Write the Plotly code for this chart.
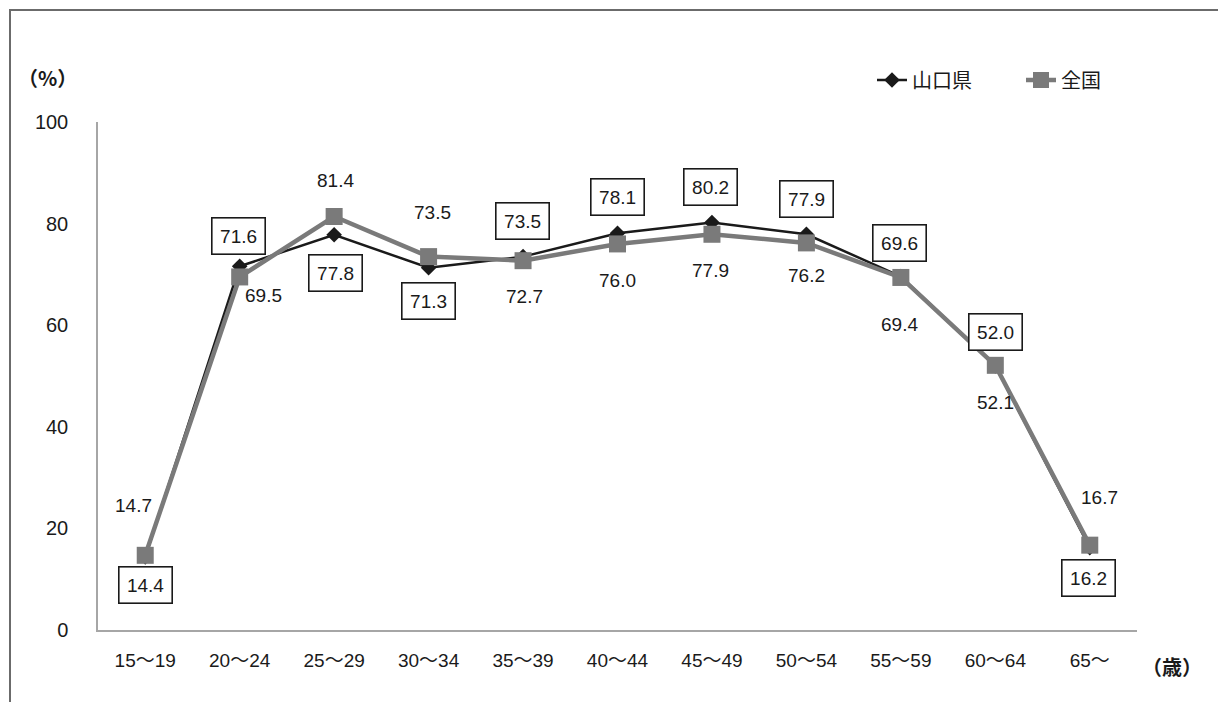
import plotly.graph_objects as go

categories = ["15～19", "20～24", "25～29", "30～34", "35～39", "40～44",
              "45～49", "50～54", "55～59", "60～64", "65～"]
yamaguchi = [14.4, 71.6, 77.8, 71.3, 73.5, 78.1, 80.2, 77.9, 69.6, 52.0, 16.2]
national = [14.7, 69.5, 81.4, 73.5, 72.7, 76.0, 77.9, 76.2, 69.4, 52.1, 16.7]

# label offsets (pixels) for data labels
y_shift_yama = [-28, 30, -38, -33, 36, 36, 36, 35, 33, 34, -30]
x_shift_yama = [0, -1, 1, 0, -1, 0, -1, 0, -1, 0, -1]
y_shift_nat = [50, -19, 36, 44, -36, -37, -36, -33, -47, -37, 48]
x_shift_nat = [-12, 24, 1, 4, 1, 0, -1, 0, -1, 0, 10]

FONT = "Liberation Sans, Arial, Noto Sans CJK JP"
CJK = "Noto Sans CJK JP"

# page offset: browser body margin
OFF = 8
W, H = 1226 - 2 * OFF, 710 - 2 * OFF
L, T = 98 - OFF, 122 - OFF
pw, ph = 1039, 508
R = W - L - pw
B = H - T - ph


def px_to_paper(px, py):
    return (px - OFF - L) / pw, (H - B - (py - OFF)) / ph


fig = go.Figure()
fig.add_trace(go.Scatter(
    x=categories, y=yamaguchi, name="山口県", mode="lines+markers",
    line=dict(color="#1a1a1a", width=2.5),
    marker=dict(symbol="diamond", size=12, color="#1a1a1a"),
))
fig.add_trace(go.Scatter(
    x=categories, y=national, name="全国", mode="lines+markers",
    line=dict(color="#7a7a7a", width=4.5),
    marker=dict(symbol="square", size=17, color="#7a7a7a"),
))

annotations = []
for i, c in enumerate(categories):
    annotations.append(dict(
        x=c, y=yamaguchi[i], xref="x", yref="y", text=f"{yamaguchi[i]:.1f}",
        showarrow=False, xshift=x_shift_yama[i], yshift=y_shift_yama[i],
        font=dict(size=19, color="#1a1a1a", family=FONT),
        bordercolor="#1a1a1a", borderwidth=1.6, borderpad=1,
        bgcolor="white", width=50, height=33,
    ))
    annotations.append(dict(
        x=c, y=national[i], xref="x", yref="y", text=f"{national[i]:.1f}",
        showarrow=False, xshift=x_shift_nat[i], yshift=y_shift_nat[i],
        font=dict(size=19, color="#1a1a1a", family=FONT),
    ))

ax, ay = px_to_paper(47, 78)
annotations.append(dict(
    x=ax, y=ay, xref="paper", yref="paper", text="<b>（%）</b>",
    xanchor="center", yanchor="middle",
    showarrow=False, font=dict(size=20, color="#1a1a1a", family=CJK),
))
ax, ay = px_to_paper(1172, 666)
annotations.append(dict(
    x=ax, y=ay, xref="paper", yref="paper", text="<b>（歳）</b>",
    xanchor="center", yanchor="middle",
    showarrow=False, font=dict(size=20, color="#1a1a1a", family=CJK),
))

bx0, by0 = px_to_paper(10, 10)
bx1, by1 = px_to_paper(1260, 760)
lx, ly = px_to_paper(872, 80)

fig.update_layout(
    width=W, height=H,
    margin=dict(l=L, r=R, t=T, b=B),
    paper_bgcolor="white", plot_bgcolor="white",
    font=dict(family=FONT, size=19, color="#1a1a1a"),
    showlegend=True,
    legend=dict(
        orientation="h", x=lx, xanchor="left", y=ly, yanchor="middle",
        font=dict(size=20, family=CJK, color="#1a1a1a"),
        bgcolor="rgba(0,0,0,0)", entrywidth=104,
    ),
    xaxis=dict(
        range=[-0.5, len(categories) - 0.5],
        showline=True, linecolor="#a6a6a6", linewidth=1.5, showgrid=False,
        ticks="", tickfont=dict(size=19, family=FONT), ticklabelstandoff=12,
        zeroline=False,
    ),
    yaxis=dict(
        range=[0, 100], tickvals=[0, 20, 40, 60, 80, 100],
        showline=True, linecolor="#a6a6a6", linewidth=1.5, showgrid=False,
        ticks="", tickfont=dict(size=20), ticklabelstandoff=24, zeroline=False,
    ),
    annotations=annotations,
    shapes=[dict(
        type="rect", xref="paper", yref="paper",
        x0=bx0, y0=by1, x1=bx1, y1=by0,
        line=dict(color="#6b6b6b", width=2), layer="below",
    )],
)

fig.write_html("out.html")
